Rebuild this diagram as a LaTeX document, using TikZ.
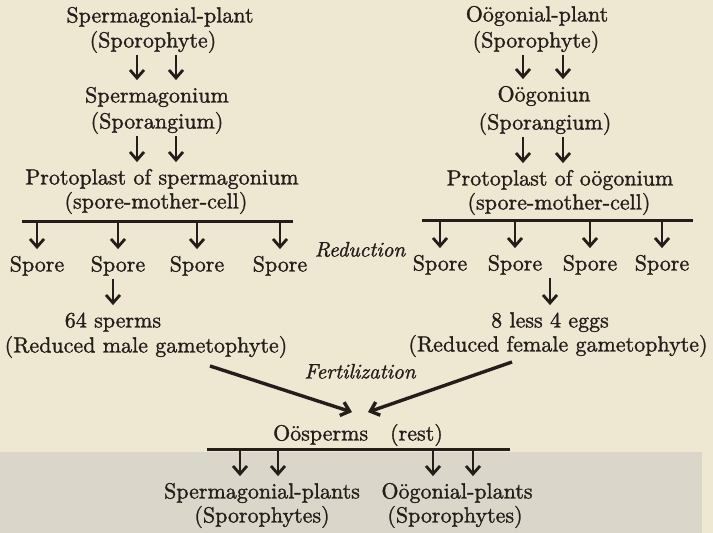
\documentclass[tikz,border=0pt]{standalone}
\usepackage{tikz}
\usepackage{fontspec}
\setmainfont{Latin Modern Roman}[FakeBold=1.3]
\usetikzlibrary{arrows.meta, positioning}
\definecolor{paper}{RGB}{238,231,210}
\definecolor{plate}{RGB}{218,214,202}
\definecolor{ink}{RGB}{36,30,26}

\begin{document}
\begin{tikzpicture}[x=0.5pt, y=-0.5pt,
  >={Straight Barb[length=4pt, width=7pt]},
  lbl/.style={ink, inner sep=1pt, text height=8pt, text depth=2.5pt,
    font=\fontsize{11}{13}\selectfont},
  note/.style={lbl, font=\fontsize{10.5}{13}\selectfont\itshape},
  arr/.style={->, ink, line width=1.4pt, shorten >=2pt},
  bar/.style={ink, line width=1.5pt},
  fert/.style={->, ink, line width=1.7pt}]
  % page and plate
  \fill[paper] (0,0) rectangle (713,533);
  \fill[plate] (0,452) rectangle (702,533);
  \useasboundingbox (0,0) rectangle (713,533);

  % male side
  \node[lbl] (spplant)  at (160,17)  {Spermagonial-plant};
  \node[lbl] (spsporo)  at (153,42)  {(Sporophyte)};
  \node[lbl] (spgon)    at (157,97)  {Spermagonium};
  \node[lbl] (spsporan) at (157,123) {(Sporangium)};
  \node[lbl] (spproto)  at (162,179) {Protoplast of spermagonium};
  \node[lbl] (spsmc)    at (156,203) {(spore-mother-cell)};
  \coordinate (spbarL) at (22,222);
  \coordinate (spbarR) at (293,222);
  \node[lbl] (spA) at (37,266)  {Spore};
  \node[lbl] (spB) at (118,266) {Spore};
  \node[lbl] (spC) at (197,266) {Spore};
  \node[lbl] (spD) at (280,266) {Spore};
  \node[lbl] (sperms) at (113,322) {64 sperms};
  \node[lbl] (male)   at (146,347) {(Reduced male gametophyte)};

  % female side
  \node[lbl] (ogplant)  at (537,16)  {O\"ogonial-plant};
  \node[lbl] (ogsporo)  at (536,42)  {(Sporophyte)};
  \node[lbl] (oggon)    at (544,96)  {O\"ogoniun};
  \node[lbl] (ogsporan) at (545,124) {(Sporangium)};
  \node[lbl] (ogproto)  at (560,180) {Protoplast of o\"ogonium};
  \node[lbl] (ogsmc)    at (559,204) {(spore-mother-cell)};
  \coordinate (ogbarL) at (422,221);
  \coordinate (ogbarR) at (693,221);
  \node[lbl] (ogA) at (440,265) {Spore};
  \node[lbl] (ogB) at (515,265) {Spore};
  \node[lbl] (ogC) at (590,265) {Spore};
  \node[lbl] (ogD) at (662,265) {Spore};
  \node[lbl] (eggs)   at (550,322) {8 less 4 eggs};
  \node[lbl] (female) at (558,346) {(Reduced female gametophyte)};

  % middle
  \node[note] (reduct) at (360,251) {Reduction};
  \node[note] (fertil) at (360,373) {Fertilization};
  \node[lbl] (oosp) at (358,435) {O\"osperms\quad(rest)};
  \coordinate (oobarL) at (207,450);
  \coordinate (oobarR) at (510,450);
  \node[lbl] (spplants)  at (262,493) {Spermagonial-plants};
  \node[lbl] (spplsporo) at (262,517) {(Sporophytes)};
  \node[lbl] (ogplants)  at (457,493) {O\"ogonial-plants};
  \node[lbl] (ogplsporo) at (455,517) {(Sporophytes)};
  \coordinate (fertL) at (210,366);
  \coordinate (fertR) at (512,362);

  % paired arrows
  \foreach \x in {137,176} {
    \draw[arr] (\x,0 |- spsporo.south) -- (\x,0 |- spgon.north);
    \draw[arr] (\x,0 |- spsporan.south) -- (\x,0 |- spproto.north);
  }
  \foreach \x in {523,563} {
    \draw[arr] (\x,0 |- ogsporo.south) -- (\x,0 |- oggon.north);
    \draw[arr] (\x,0 |- ogsporan.south) -- (\x,0 |- ogproto.north);
  }
  % spore bars
  \draw[bar] (spbarL) -- (spbarR);
  \draw[bar] (ogbarL) -- (ogbarR);
  \foreach \s in {spA,spB,spC,spD}
    \draw[arr] (\s.north |- spbarL) -- (\s.north);
  \foreach \s in {ogA,ogB,ogC,ogD}
    \draw[arr] (\s.north |- ogbarL) -- (\s.north);
  \draw[arr] (sperms.north |- spB.south) -- (sperms.north);
  \draw[arr] (eggs.north |- ogC.south) -- (eggs.north);
  % fertilization
  \draw[fert] (fertL) -- ([xshift=-3pt, yshift=5pt]oosp.north);
  \draw[fert] (fertR) -- ([xshift=5pt, yshift=5pt]oosp.north);
  % offspring
  \draw[bar] (oobarL) -- (oobarR);
  \foreach \x in {240,278}
    \draw[arr] (\x,0 |- oobarL) -- (\x,0 |- spplants.north);
  \foreach \x in {433,473}
    \draw[arr] (\x,0 |- oobarL) -- (\x,0 |- ogplants.north);
\end{tikzpicture}
\end{document}
